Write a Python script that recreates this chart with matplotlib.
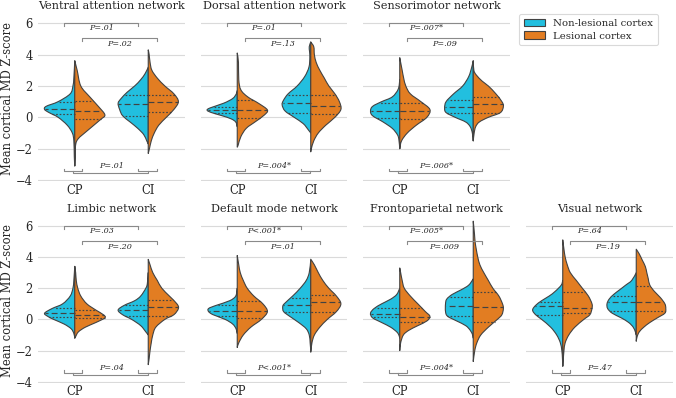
import numpy as np
import matplotlib
matplotlib.use("Agg")
import matplotlib.pyplot as plt
from matplotlib.patches import Patch, PathPatch
from matplotlib.path import Path

plt.rcParams['font.family'] = ['DejaVu Serif']

# ---------------- data ----------------
groups = ["CP", "CI"]
series_names = ["Non-lesional cortex", "Lesional cortex"]
titles = ["Ventral attention network", "Dorsal attention network", "Sensorimotor network",
          "Limbic network", "Default mode network", "Frontoparietal network", "Visual network"]

# half-violin density profiles: (z-score, relative half width)
van_cp_nl = [(3.6,0),(2.5,0.03),(2.0,0.06),(1.5,0.15),(1.0,0.55),(0.7,0.95),(0.5,1.0),(0.3,0.85),(0.0,0.55),(-0.5,0.25),(-1.0,0.08),(-1.5,0.03),(-2.5,0.015),(-3.1,0)]
van_cp_l = [(3.6,0),(3.0,0.08),(2.0,0.2),(1.3,0.5),(0.66,0.8),(0.15,1.0),(-0.15,0.85),(-0.8,0.45),(-1.4,0.1),(-1.9,0.02),(-2.5,0.015),(-3.1,0)]
van_ci_nl = [(3.2,0),(2.8,0.1),(2.4,0.25),(2.0,0.45),(1.6,0.7),(1.2,0.9),(0.9,1.0),(0.5,0.95),(0.1,0.85),(-0.3,0.6),(-0.7,0.35),(-1.1,0.15),(-1.5,0.05),(-1.7,0)]
van_ci_l = [(4.3,0),(4.0,0.03),(3.5,0.06),(3.0,0.12),(2.5,0.3),(2.0,0.55),(1.5,0.85),(1.0,1.0),(0.5,0.85),(0.0,0.6),(-0.5,0.35),(-1.0,0.2),(-1.5,0.1),(-2.0,0.04),(-2.3,0)]
van_quart = [[0.2,0.55,1.0],[-0.1,0.4,1.05],[0.1,0.85,1.4],[0.35,1.0,1.4]]
van_p = ["P=.01", "P=.02", "P=.01"]

dan_cp_nl = [(1.7,0),(1.5,0.03),(1.2,0.15),(0.9,0.45),(0.6,0.9),(0.45,1.0),(0.3,0.85),(0.1,0.5),(-0.1,0.2),(-0.3,0.05),(-0.6,0)]
dan_cp_l = [(4.1,0),(3.5,0.04),(2.4,0.05),(1.75,0.12),(1.3,0.35),(0.9,0.7),(0.47,1.0),(0.15,0.9),(-0.28,0.6),(-0.7,0.3),(-1.23,0.12),(-1.77,0.03),(-1.9,0)]
dan_ci_nl = [(4.8,0),(4.5,0.05),(4.2,0.04),(3.8,0.03),(3.2,0.06),(2.6,0.2),(2.0,0.45),(1.5,0.75),(1.1,0.9),(0.8,0.95),(0.4,0.85),(0.0,0.55),(-0.4,0.25),(-0.8,0.08),(-1.0,0)]
dan_ci_l = [(4.8,0),(4.5,0.1),(4.0,0.12),(3.5,0.18),(3.0,0.3),(2.5,0.45),(2.0,0.6),(1.5,0.8),(1.0,0.95),(0.5,1.0),(0.0,0.8),(-0.5,0.5),(-1.0,0.25),(-1.5,0.1),(-2.0,0.02),(-2.2,0)]
dan_quart = [[0.26,0.47,0.64],[-0.06,0.47,1.1],[0.26,0.9,1.43],[0.19,0.7,1.4]]
dan_p = ["P=.01", "P=.13", "P=.004*"]

smn_cp_nl = [(2.4,0),(1.8,0.05),(1.3,0.25),(1.0,0.6),(0.7,0.9),(0.4,0.97),(0.1,0.9),(-0.3,0.55),(-0.7,0.25),(-1.1,0.08),(-1.4,0.03),(-2.0,0)]
smn_cp_l = [(3.8,0),(3.5,0.03),(3.0,0.08),(2.5,0.13),(2.0,0.2),(1.5,0.35),(1.0,0.7),(0.5,1.0),(0.0,0.9),(-0.5,0.55),(-1.0,0.25),(-1.5,0.06),(-2.0,0)]
smn_ci_nl = [(3.6,0),(3.2,0.05),(2.6,0.15),(2.0,0.35),(1.5,0.65),(1.0,0.9),(0.6,0.95),(0.3,0.9),(0.0,0.6),(-0.3,0.25),(-0.6,0.1),(-1.0,0.03),(-1.5,0)]
smn_ci_l = [(3.6,0),(3.0,0.02),(2.7,0.1),(2.3,0.3),(2.0,0.5),(1.5,0.75),(1.0,0.95),(0.7,1.0),(0.3,0.9),(0.0,0.5),(-0.3,0.2),(-0.6,0.08),(-1.0,0.03),(-1.5,0)]
smn_quart = [[-0.06,0.4,0.9],[-0.13,0.4,0.9],[0.26,0.68,1.1],[0.26,0.83,1.28]]
smn_p = ["P=.007*", "P=.09", "P=.006*"]

lim_cp_nl = [(3.4,0),(2.5,0.03),(2.0,0.06),(1.5,0.15),(1.0,0.4),(0.7,0.75),(0.4,1.0),(0.2,0.9),(0.0,0.7),(-0.3,0.35),(-0.6,0.12),(-0.9,0.03),(-1.2,0)]
lim_cp_l = [(3.4,0),(3.0,0.03),(2.5,0.05),(2.0,0.1),(1.5,0.2),(1.0,0.4),(0.6,0.7),(0.3,0.95),(0.1,1.0),(-0.2,0.7),(-0.5,0.35),(-0.8,0.12),(-1.1,0.03),(-1.2,0)]
lim_ci_nl = [(3.0,0),(2.3,0.03),(2.0,0.08),(1.5,0.25),(1.2,0.45),(0.9,0.8),(0.6,1.0),(0.3,0.85),(0.0,0.55),(-0.4,0.25),(-0.8,0.08),(-1.0,0)]
lim_ci_l = [(3.85,0),(3.5,0.06),(3.0,0.15),(2.5,0.3),(2.0,0.45),(1.5,0.7),(1.0,0.95),(0.7,1.0),(0.3,0.85),(0.0,0.55),(-0.5,0.25),(-1.0,0.15),(-1.5,0.1),(-2.0,0.06),(-2.5,0.03),(-2.9,0)]
lim_quart = [[0.15,0.4,0.75],[0.1,0.28,0.6],[0.24,0.63,0.9],[0.21,0.78,1.25]]
lim_p = ["P=.03", "P=.20", "P=.04"]

dmn_cp_nl = [(2.0,0),(1.5,0.05),(1.2,0.25),(0.9,0.7),(0.7,0.95),(0.5,0.95),(0.3,0.8),(0.0,0.4),(-0.3,0.15),(-0.6,0.04),(-0.9,0)]
dmn_cp_l = [(4.1,0),(3.5,0.05),(3.0,0.1),(2.5,0.2),(2.0,0.33),(1.5,0.55),(1.0,0.85),(0.5,1.0),(0.0,0.8),(-0.5,0.45),(-1.0,0.2),(-1.5,0.05),(-1.8,0)]
dmn_ci_nl = [(3.8,0),(3.0,0.05),(2.5,0.15),(2.0,0.35),(1.5,0.6),(1.0,0.88),(0.8,0.93),(0.5,0.9),(0.2,0.7),(-0.2,0.4),(-0.6,0.15),(-1.0,0.05),(-1.5,0.02),(-2.0,0)]
dmn_ci_l = [(3.86,0),(3.5,0.12),(3.0,0.25),(2.5,0.4),(2.0,0.6),(1.5,0.85),(1.0,1.0),(0.5,0.85),(0.0,0.55),(-0.5,0.3),(-1.0,0.12),(-1.5,0.04),(-2.1,0)]
dmn_quart = [[0.21,0.54,0.93],[0.06,0.54,1.18],[0.45,0.9,1.4],[0.45,1.1,1.57]]
dmn_p = ["P<.001*", "P=.01", "P<.001*"]

fpn_cp_nl = [(2.0,0),(1.6,0.1),(1.3,0.3),(1.0,0.6),(0.7,0.85),(0.4,0.97),(0.1,0.9),(-0.2,0.6),(-0.5,0.3),(-0.8,0.1),(-1.0,0.03),(-1.2,0)]
fpn_cp_l = [(3.3,0),(3.0,0.03),(2.5,0.08),(2.0,0.15),(1.5,0.35),(1.0,0.6),(0.5,0.85),(0.2,1.0),(-0.1,0.9),(-0.4,0.6),(-0.7,0.3),(-1.0,0.12),(-1.5,0.03),(-2.0,0)]
fpn_ci_nl = [(2.6,0),(2.2,0.15),(1.9,0.4),(1.6,0.7),(1.3,0.88),(1.0,0.92),(0.5,0.92),(0.2,0.85),(-0.1,0.55),(-0.4,0.25),(-0.7,0.1),(-1.0,0.02),(-1.2,0)]
fpn_ci_l = [(6.3,0),(5.5,0.04),(5.0,0.06),(4.5,0.1),(4.0,0.15),(3.5,0.22),(3.0,0.35),(2.5,0.5),(2.0,0.65),(1.5,0.85),(1.0,0.97),(0.7,1.0),(0.3,0.95),(0.0,0.8),(-0.5,0.5),(-1.0,0.25),(-1.5,0.12),(-2.0,0.05),(-2.7,0)]
fpn_quart = [[0.17,0.35,0.75],[-0.19,0.17,0.71],[0.24,0.86,1.46],[-0.15,0.82,1.74]]
fpn_p = ["P=.005*", "P=.009", "P=.004*"]

vis_cp_nl = [(2.5,0),(2.2,0.05),(1.8,0.25),(1.5,0.45),(1.2,0.7),(0.9,0.9),(0.6,1.0),(0.3,0.9),(0.0,0.7),(-0.5,0.4),(-1.0,0.2),(-1.5,0.08),(-2.0,0.03),(-2.5,0.01),(-3.0,0)]
vis_cp_l = [(5.1,0),(4.5,0.04),(4.0,0.08),(3.5,0.15),(3.0,0.25),(2.5,0.45),(2.0,0.65),(1.5,0.85),(1.0,0.97),(0.7,0.97),(0.3,0.9),(0.0,0.7),(-0.5,0.4),(-1.0,0.2),(-1.5,0.08),(-2.0,0.04),(-2.5,0.02),(-3.0,0)]
vis_ci_nl = [(3.0,0),(2.5,0.15),(2.2,0.35),(1.9,0.55),(1.6,0.75),(1.3,0.9),(1.0,0.97),(0.7,0.95),(0.4,0.8),(0.1,0.5),(-0.2,0.25),(-0.5,0.1),(-0.8,0.03),(-1.0,0)]
vis_ci_l = [(4.5,0),(4.2,0.1),(3.8,0.2),(3.4,0.3),(3.0,0.35),(2.6,0.4),(2.2,0.45),(1.8,0.6),(1.4,0.8),(1.0,0.95),(0.7,0.98),(0.4,0.95),(0.1,0.7),(-0.2,0.45),(-0.5,0.25),(-0.8,0.1),(-1.1,0.03),(-1.4,0)]
vis_quart = [[0.28,0.86,1.14],[0.43,0.75,1.78],[0.54,1.14,1.52],[0.54,1.14,2.17]]
vis_p = ["P=.64", "P=.19", "P=.47"]

yticks = [-4, -2, 0, 2, 4, 6]

# ---------------- style ----------------
CYAN = "#22bfdf"
ORANGE = "#e27d22"
EDGE = "#424242"
BRK = "#8a8a8a"
TXT = "#262626"
HALF = 0.41

panels = [
    (van_cp_nl, van_cp_l, van_ci_nl, van_ci_l, van_quart, van_p),
    (dan_cp_nl, dan_cp_l, dan_ci_nl, dan_ci_l, dan_quart, dan_p),
    (smn_cp_nl, smn_cp_l, smn_ci_nl, smn_ci_l, smn_quart, smn_p),
    (lim_cp_nl, lim_cp_l, lim_ci_nl, lim_ci_l, lim_quart, lim_p),
    (dmn_cp_nl, dmn_cp_l, dmn_ci_nl, dmn_ci_l, dmn_quart, dmn_p),
    (fpn_cp_nl, fpn_cp_l, fpn_ci_nl, fpn_ci_l, fpn_quart, fpn_p),
    (vis_cp_nl, vis_cp_l, vis_ci_nl, vis_ci_l, vis_quart, vis_p),
]
slots = [(0, 0), (0, 1), (0, 2), (1, 0), (1, 1), (1, 2), (1, 3)]

W, H = 676, 398
fig = plt.figure(figsize=(W / 100, H / 100), dpi=100)
lefts = [38, 200.5, 363, 526]
axw = 147
row_tb = [(16, 181), (218.7, 382.7)]


def smooth_path(pts):
    """Cubic Bezier (Catmull-Rom style) path through the knots."""
    pts = np.asarray(pts, float)
    n = len(pts)
    verts = [pts[0]]
    codes = [Path.MOVETO]
    for i in range(n - 1):
        p0 = pts[max(i - 1, 0)]
        p1 = pts[i]
        p2 = pts[i + 1]
        p3 = pts[min(i + 2, n - 1)]
        c1 = p1 + (p2 - p0) / 6.0
        c2 = p2 - (p3 - p1) / 6.0
        verts += [c1, c2, p2]
        codes += [Path.CURVE4] * 3
    verts.append(pts[0])
    codes.append(Path.LINETO)
    verts.append(pts[0])
    codes.append(Path.CLOSEPOLY)
    return Path(verts, codes)


def half_violin(ax, center, side, profile, quart, color):
    prof = sorted(profile, key=lambda p: p[0])
    ys = np.array([p[0] for p in prof])
    ws = np.array([p[1] for p in prof]) * HALF
    xs = center + side * ws
    path = smooth_path(np.column_stack([xs, ys]))
    ax.add_patch(PathPatch(path, facecolor=color, edgecolor=EDGE, lw=0.8,
                           zorder=3, joinstyle='round'))
    for k, q in enumerate(quart):
        w = np.interp(q, ys, ws)
        ls = (0, (5, 2.6)) if k == 1 else (0, (1.4, 1.6))
        ax.plot([center, center + side * w], [q, q], color=EDGE, lw=0.85,
                ls=ls, zorder=4, solid_capstyle='butt')


def bracket(ax, x1, x2, y, h):
    ax.plot([x1, x1, x2, x2], [y + h, y, y, y + h], color=BRK, lw=0.8,
            zorder=5, clip_on=False)


# bracket anchor positions (non-lesional / lesional per group)
pos = {"CP": (-0.145, 0.10), "CI": (0.865, 1.12)}

for (row, col), title, data in zip(slots, titles, panels):
    top, bot = row_tb[row]
    ax = fig.add_axes([lefts[col] / W, 1 - bot / H, axw / W, (bot - top) / H])
    cp_nl, cp_l, ci_nl, ci_l, quart, pv = data
    half_violin(ax, 0, -1, cp_nl, quart[0], CYAN)
    half_violin(ax, 0, 1, cp_l, quart[1], ORANGE)
    half_violin(ax, 1, -1, ci_nl, quart[2], CYAN)
    half_violin(ax, 1, 1, ci_l, quart[3], ORANGE)

    # top brackets
    bracket(ax, pos["CP"][0], pos["CI"][0], 6.0, -0.18)
    ax.text((pos["CP"][0] + pos["CI"][0]) / 2, 5.68, pv[0], ha="center", va="center",
            fontsize=5.8, style="italic", color=TXT, zorder=6)
    bracket(ax, pos["CP"][1], pos["CI"][1], 5.04, -0.18)
    ax.text((pos["CP"][1] + pos["CI"][1]) / 2, 4.66, pv[1], ha="center", va="center",
            fontsize=5.8, style="italic", color=TXT, zorder=6)
    # bottom brackets
    for g in groups:
        bracket(ax, pos[g][0], pos[g][1], -3.45, 0.18)
    mcp = sum(pos["CP"]) / 2
    mci = sum(pos["CI"]) / 2
    bracket(ax, mcp, mci, -3.56, 0.11)
    ax.text(0.5, -3.13, pv[2], ha="center", va="center",
            fontsize=5.8, style="italic", color=TXT, zorder=6)

    ax.set_xlim(-0.5, 1.5)
    ax.set_ylim(-4.06, 6.46)
    ax.set_yticks(yticks)
    ax.set_xticks([0, 1])
    ax.set_xticklabels(groups)
    ax.grid(axis="y", color="#dadada", lw=0.8, zorder=0)
    ax.set_axisbelow(True)
    for s in ax.spines.values():
        s.set_visible(False)
    ax.tick_params(axis="x", length=0, labelsize=8.3, colors=TXT, pad=2)
    ax.tick_params(axis="y", length=0, labelsize=8.3, colors=TXT, pad=4)
    if col == 0:
        ax.set_ylabel("Mean cortical MD Z-score", fontsize=8.3, color=TXT)
        ax.yaxis.set_label_coords(-0.165, 0.5)
    else:
        ax.set_yticklabels([])
    ax.set_title(title, fontsize=8.1, color=TXT, pad=5)

handles = [Patch(facecolor=CYAN, edgecolor=EDGE, lw=0.8, label=series_names[0]),
           Patch(facecolor=ORANGE, edgecolor=EDGE, lw=0.8, label=series_names[1])]
leg = fig.legend(handles=handles, loc="upper left", bbox_to_anchor=(514 / W, 1 - 9 / H),
                 fontsize=7.3, frameon=True, handlelength=2.1, handleheight=0.75,
                 borderpad=0.45, labelspacing=0.35, handletextpad=0.8, fancybox=True)
leg.get_frame().set_edgecolor("#d0d0d0")
leg.get_frame().set_linewidth(0.8)
for t in leg.get_texts():
    t.set_color(TXT)

fig.savefig("out.png", dpi=100)
